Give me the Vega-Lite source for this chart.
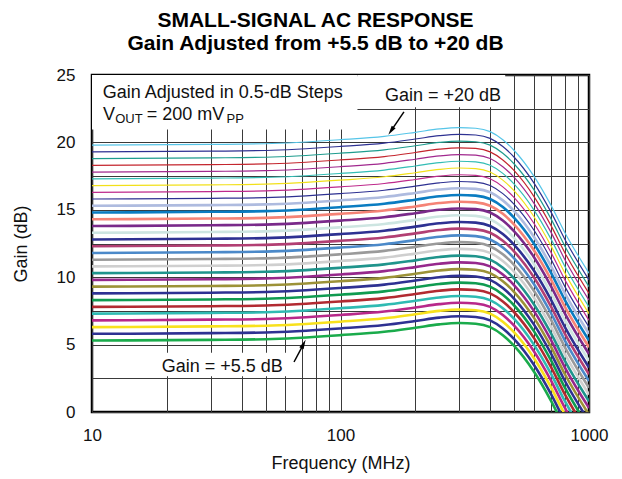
{
  "$schema": "https://vega.github.io/schema/vega-lite/v6.json",
  "autosize": "none",
  "width": 497,
  "height": 337,
  "padding": {"left": 92, "top": 75, "right": 33, "bottom": 67},
  "background": "white",
  "title": {
    "text": ["SMALL-SIGNAL AC RESPONSE", "Gain Adjusted from +5.5 dB to +20 dB"],
    "fontSize": 21,
    "fontWeight": "bold",
    "lineHeight": 23,
    "anchor": "middle",
    "dx": -25,
    "offset": 12,
    "color": "black"
  },
  "config": {
    "font": "Liberation Sans",
    "view": {"stroke": "black", "strokeWidth": 2.5},
    "axis": {
      "domain": false,
      "ticks": false,
      "grid": true,
      "gridColor": "#3a3a3a",
      "gridWidth": 1,
      "labelFontSize": 17,
      "labelColor": "#111",
      "titleFontSize": 18,
      "titleFontWeight": "normal",
      "titleColor": "#111"
    }
  },
  "datasets": {
    "curves": [
      {"s":20,"f":10,"g":19.8},{"s":20,"f":30,"g":19.85},{"s":20,"f":50,"g":19.9},{"s":20,"f":100,"g":20.2},{"s":20,"f":150,"g":20.45},{"s":20,"f":200,"g":20.75},{"s":20,"f":250,"g":21},{"s":20,"f":300,"g":21.1},{"s":20,"f":350,"g":21.05},{"s":20,"f":400,"g":20.8},{"s":20,"f":450,"g":20.2},{"s":20,"f":500,"g":19.4},{"s":20,"f":600,"g":17.5},{"s":20,"f":700,"g":15.4},{"s":20,"f":800,"g":13.3},{"s":20,"f":1000,"g":10.3},
      {"s":19.5,"f":10,"g":19.3},{"s":19.5,"f":30,"g":19.35},{"s":19.5,"f":50,"g":19.4},{"s":19.5,"f":100,"g":19.7},{"s":19.5,"f":150,"g":19.95},{"s":19.5,"f":200,"g":20.25},{"s":19.5,"f":250,"g":20.5},{"s":19.5,"f":300,"g":20.6},{"s":19.5,"f":350,"g":20.55},{"s":19.5,"f":400,"g":20.3},{"s":19.5,"f":450,"g":19.7},{"s":19.5,"f":500,"g":18.9},{"s":19.5,"f":600,"g":17},{"s":19.5,"f":700,"g":14.9},{"s":19.5,"f":800,"g":12.8},{"s":19.5,"f":1000,"g":9.8},
      {"s":19,"f":10,"g":18.8},{"s":19,"f":30,"g":18.85},{"s":19,"f":50,"g":18.9},{"s":19,"f":100,"g":19.2},{"s":19,"f":150,"g":19.45},{"s":19,"f":200,"g":19.75},{"s":19,"f":250,"g":20},{"s":19,"f":300,"g":20.1},{"s":19,"f":350,"g":20.05},{"s":19,"f":400,"g":19.8},{"s":19,"f":450,"g":19.2},{"s":19,"f":500,"g":18.4},{"s":19,"f":600,"g":16.5},{"s":19,"f":700,"g":14.4},{"s":19,"f":800,"g":12.3},{"s":19,"f":1000,"g":9.3},
      {"s":18.5,"f":10,"g":18.3},{"s":18.5,"f":30,"g":18.35},{"s":18.5,"f":50,"g":18.4},{"s":18.5,"f":100,"g":18.7},{"s":18.5,"f":150,"g":18.95},{"s":18.5,"f":200,"g":19.25},{"s":18.5,"f":250,"g":19.5},{"s":18.5,"f":300,"g":19.6},{"s":18.5,"f":350,"g":19.55},{"s":18.5,"f":400,"g":19.3},{"s":18.5,"f":450,"g":18.7},{"s":18.5,"f":500,"g":17.9},{"s":18.5,"f":600,"g":16},{"s":18.5,"f":700,"g":13.9},{"s":18.5,"f":800,"g":11.8},{"s":18.5,"f":1000,"g":8.8},
      {"s":18,"f":10,"g":17.8},{"s":18,"f":30,"g":17.85},{"s":18,"f":50,"g":17.9},{"s":18,"f":100,"g":18.2},{"s":18,"f":150,"g":18.45},{"s":18,"f":200,"g":18.75},{"s":18,"f":250,"g":19},{"s":18,"f":300,"g":19.1},{"s":18,"f":350,"g":19.05},{"s":18,"f":400,"g":18.8},{"s":18,"f":450,"g":18.2},{"s":18,"f":500,"g":17.4},{"s":18,"f":600,"g":15.5},{"s":18,"f":700,"g":13.4},{"s":18,"f":800,"g":11.3},{"s":18,"f":1000,"g":8.3},
      {"s":17.5,"f":10,"g":17.3},{"s":17.5,"f":30,"g":17.35},{"s":17.5,"f":50,"g":17.4},{"s":17.5,"f":100,"g":17.7},{"s":17.5,"f":150,"g":17.95},{"s":17.5,"f":200,"g":18.25},{"s":17.5,"f":250,"g":18.5},{"s":17.5,"f":300,"g":18.6},{"s":17.5,"f":350,"g":18.55},{"s":17.5,"f":400,"g":18.3},{"s":17.5,"f":450,"g":17.7},{"s":17.5,"f":500,"g":16.9},{"s":17.5,"f":600,"g":15},{"s":17.5,"f":700,"g":12.9},{"s":17.5,"f":800,"g":10.8},{"s":17.5,"f":1000,"g":7.8},
      {"s":17,"f":10,"g":16.8},{"s":17,"f":30,"g":16.85},{"s":17,"f":50,"g":16.9},{"s":17,"f":100,"g":17.2},{"s":17,"f":150,"g":17.45},{"s":17,"f":200,"g":17.75},{"s":17,"f":250,"g":18},{"s":17,"f":300,"g":18.1},{"s":17,"f":350,"g":18.05},{"s":17,"f":400,"g":17.8},{"s":17,"f":450,"g":17.2},{"s":17,"f":500,"g":16.4},{"s":17,"f":600,"g":14.5},{"s":17,"f":700,"g":12.4},{"s":17,"f":800,"g":10.3},{"s":17,"f":1000,"g":7.3},
      {"s":16.5,"f":10,"g":16.3},{"s":16.5,"f":30,"g":16.35},{"s":16.5,"f":50,"g":16.4},{"s":16.5,"f":100,"g":16.7},{"s":16.5,"f":150,"g":16.95},{"s":16.5,"f":200,"g":17.25},{"s":16.5,"f":250,"g":17.5},{"s":16.5,"f":300,"g":17.6},{"s":16.5,"f":350,"g":17.55},{"s":16.5,"f":400,"g":17.3},{"s":16.5,"f":450,"g":16.7},{"s":16.5,"f":500,"g":15.9},{"s":16.5,"f":600,"g":14},{"s":16.5,"f":700,"g":11.9},{"s":16.5,"f":800,"g":9.8},{"s":16.5,"f":1000,"g":6.8},
      {"s":16,"f":10,"g":15.8},{"s":16,"f":30,"g":15.85},{"s":16,"f":50,"g":15.9},{"s":16,"f":100,"g":16.2},{"s":16,"f":150,"g":16.45},{"s":16,"f":200,"g":16.75},{"s":16,"f":250,"g":17},{"s":16,"f":300,"g":17.1},{"s":16,"f":350,"g":17.05},{"s":16,"f":400,"g":16.8},{"s":16,"f":450,"g":16.2},{"s":16,"f":500,"g":15.4},{"s":16,"f":600,"g":13.5},{"s":16,"f":700,"g":11.4},{"s":16,"f":800,"g":9.3},{"s":16,"f":1000,"g":6.3},
      {"s":15.5,"f":10,"g":15.3},{"s":15.5,"f":30,"g":15.35},{"s":15.5,"f":50,"g":15.4},{"s":15.5,"f":100,"g":15.7},{"s":15.5,"f":150,"g":15.95},{"s":15.5,"f":200,"g":16.25},{"s":15.5,"f":250,"g":16.5},{"s":15.5,"f":300,"g":16.6},{"s":15.5,"f":350,"g":16.55},{"s":15.5,"f":400,"g":16.3},{"s":15.5,"f":450,"g":15.7},{"s":15.5,"f":500,"g":14.9},{"s":15.5,"f":600,"g":13},{"s":15.5,"f":700,"g":10.9},{"s":15.5,"f":800,"g":8.8},{"s":15.5,"f":1000,"g":5.8},
      {"s":15,"f":10,"g":14.8},{"s":15,"f":30,"g":14.85},{"s":15,"f":50,"g":14.9},{"s":15,"f":100,"g":15.2},{"s":15,"f":150,"g":15.45},{"s":15,"f":200,"g":15.75},{"s":15,"f":250,"g":16},{"s":15,"f":300,"g":16.1},{"s":15,"f":350,"g":16.05},{"s":15,"f":400,"g":15.8},{"s":15,"f":450,"g":15.2},{"s":15,"f":500,"g":14.4},{"s":15,"f":600,"g":12.5},{"s":15,"f":700,"g":10.4},{"s":15,"f":800,"g":8.3},{"s":15,"f":1000,"g":5.3},
      {"s":14.5,"f":10,"g":14.3},{"s":14.5,"f":30,"g":14.35},{"s":14.5,"f":50,"g":14.4},{"s":14.5,"f":100,"g":14.7},{"s":14.5,"f":150,"g":14.95},{"s":14.5,"f":200,"g":15.25},{"s":14.5,"f":250,"g":15.5},{"s":14.5,"f":300,"g":15.6},{"s":14.5,"f":350,"g":15.55},{"s":14.5,"f":400,"g":15.3},{"s":14.5,"f":450,"g":14.7},{"s":14.5,"f":500,"g":13.9},{"s":14.5,"f":600,"g":12},{"s":14.5,"f":700,"g":9.9},{"s":14.5,"f":800,"g":7.8},{"s":14.5,"f":1000,"g":4.8},
      {"s":14,"f":10,"g":13.8},{"s":14,"f":30,"g":13.85},{"s":14,"f":50,"g":13.9},{"s":14,"f":100,"g":14.2},{"s":14,"f":150,"g":14.45},{"s":14,"f":200,"g":14.75},{"s":14,"f":250,"g":15},{"s":14,"f":300,"g":15.1},{"s":14,"f":350,"g":15.05},{"s":14,"f":400,"g":14.8},{"s":14,"f":450,"g":14.2},{"s":14,"f":500,"g":13.4},{"s":14,"f":600,"g":11.5},{"s":14,"f":700,"g":9.4},{"s":14,"f":800,"g":7.3},{"s":14,"f":1000,"g":4.3},
      {"s":13.5,"f":10,"g":13.3},{"s":13.5,"f":30,"g":13.35},{"s":13.5,"f":50,"g":13.4},{"s":13.5,"f":100,"g":13.7},{"s":13.5,"f":150,"g":13.95},{"s":13.5,"f":200,"g":14.25},{"s":13.5,"f":250,"g":14.5},{"s":13.5,"f":300,"g":14.6},{"s":13.5,"f":350,"g":14.55},{"s":13.5,"f":400,"g":14.3},{"s":13.5,"f":450,"g":13.7},{"s":13.5,"f":500,"g":12.9},{"s":13.5,"f":600,"g":11},{"s":13.5,"f":700,"g":8.9},{"s":13.5,"f":800,"g":6.8},{"s":13.5,"f":1000,"g":3.8},
      {"s":13,"f":10,"g":12.8},{"s":13,"f":30,"g":12.85},{"s":13,"f":50,"g":12.9},{"s":13,"f":100,"g":13.2},{"s":13,"f":150,"g":13.45},{"s":13,"f":200,"g":13.75},{"s":13,"f":250,"g":14},{"s":13,"f":300,"g":14.1},{"s":13,"f":350,"g":14.05},{"s":13,"f":400,"g":13.8},{"s":13,"f":450,"g":13.2},{"s":13,"f":500,"g":12.4},{"s":13,"f":600,"g":10.5},{"s":13,"f":700,"g":8.4},{"s":13,"f":800,"g":6.3},{"s":13,"f":1000,"g":3.3},
      {"s":12.5,"f":10,"g":12.3},{"s":12.5,"f":30,"g":12.35},{"s":12.5,"f":50,"g":12.4},{"s":12.5,"f":100,"g":12.7},{"s":12.5,"f":150,"g":12.95},{"s":12.5,"f":200,"g":13.25},{"s":12.5,"f":250,"g":13.5},{"s":12.5,"f":300,"g":13.6},{"s":12.5,"f":350,"g":13.55},{"s":12.5,"f":400,"g":13.3},{"s":12.5,"f":450,"g":12.7},{"s":12.5,"f":500,"g":11.9},{"s":12.5,"f":600,"g":10},{"s":12.5,"f":700,"g":7.9},{"s":12.5,"f":800,"g":5.8},{"s":12.5,"f":1000,"g":2.8},
      {"s":12,"f":10,"g":11.8},{"s":12,"f":30,"g":11.85},{"s":12,"f":50,"g":11.9},{"s":12,"f":100,"g":12.2},{"s":12,"f":150,"g":12.45},{"s":12,"f":200,"g":12.75},{"s":12,"f":250,"g":13},{"s":12,"f":300,"g":13.1},{"s":12,"f":350,"g":13.05},{"s":12,"f":400,"g":12.8},{"s":12,"f":450,"g":12.2},{"s":12,"f":500,"g":11.4},{"s":12,"f":600,"g":9.5},{"s":12,"f":700,"g":7.4},{"s":12,"f":800,"g":5.3},{"s":12,"f":1000,"g":2.3},
      {"s":11.5,"f":10,"g":11.3},{"s":11.5,"f":30,"g":11.35},{"s":11.5,"f":50,"g":11.4},{"s":11.5,"f":100,"g":11.7},{"s":11.5,"f":150,"g":11.95},{"s":11.5,"f":200,"g":12.25},{"s":11.5,"f":250,"g":12.5},{"s":11.5,"f":300,"g":12.6},{"s":11.5,"f":350,"g":12.55},{"s":11.5,"f":400,"g":12.3},{"s":11.5,"f":450,"g":11.7},{"s":11.5,"f":500,"g":10.9},{"s":11.5,"f":600,"g":9},{"s":11.5,"f":700,"g":6.9},{"s":11.5,"f":800,"g":4.8},{"s":11.5,"f":1000,"g":1.8},
      {"s":11,"f":10,"g":10.8},{"s":11,"f":30,"g":10.85},{"s":11,"f":50,"g":10.9},{"s":11,"f":100,"g":11.2},{"s":11,"f":150,"g":11.45},{"s":11,"f":200,"g":11.75},{"s":11,"f":250,"g":12},{"s":11,"f":300,"g":12.1},{"s":11,"f":350,"g":12.05},{"s":11,"f":400,"g":11.8},{"s":11,"f":450,"g":11.2},{"s":11,"f":500,"g":10.4},{"s":11,"f":600,"g":8.5},{"s":11,"f":700,"g":6.4},{"s":11,"f":800,"g":4.3},{"s":11,"f":1000,"g":1.3},
      {"s":10.5,"f":10,"g":10.3},{"s":10.5,"f":30,"g":10.35},{"s":10.5,"f":50,"g":10.4},{"s":10.5,"f":100,"g":10.7},{"s":10.5,"f":150,"g":10.95},{"s":10.5,"f":200,"g":11.25},{"s":10.5,"f":250,"g":11.5},{"s":10.5,"f":300,"g":11.6},{"s":10.5,"f":350,"g":11.55},{"s":10.5,"f":400,"g":11.3},{"s":10.5,"f":450,"g":10.7},{"s":10.5,"f":500,"g":9.9},{"s":10.5,"f":600,"g":8},{"s":10.5,"f":700,"g":5.9},{"s":10.5,"f":800,"g":3.8},{"s":10.5,"f":1000,"g":0.8},
      {"s":10,"f":10,"g":9.8},{"s":10,"f":30,"g":9.85},{"s":10,"f":50,"g":9.9},{"s":10,"f":100,"g":10.2},{"s":10,"f":150,"g":10.45},{"s":10,"f":200,"g":10.75},{"s":10,"f":250,"g":11},{"s":10,"f":300,"g":11.1},{"s":10,"f":350,"g":11.05},{"s":10,"f":400,"g":10.8},{"s":10,"f":450,"g":10.2},{"s":10,"f":500,"g":9.4},{"s":10,"f":600,"g":7.5},{"s":10,"f":700,"g":5.4},{"s":10,"f":800,"g":3.3},{"s":10,"f":1000,"g":0.3},
      {"s":9.5,"f":10,"g":9.3},{"s":9.5,"f":30,"g":9.35},{"s":9.5,"f":50,"g":9.4},{"s":9.5,"f":100,"g":9.7},{"s":9.5,"f":150,"g":9.95},{"s":9.5,"f":200,"g":10.25},{"s":9.5,"f":250,"g":10.5},{"s":9.5,"f":300,"g":10.6},{"s":9.5,"f":350,"g":10.55},{"s":9.5,"f":400,"g":10.3},{"s":9.5,"f":450,"g":9.7},{"s":9.5,"f":500,"g":8.9},{"s":9.5,"f":600,"g":7},{"s":9.5,"f":700,"g":4.9},{"s":9.5,"f":800,"g":2.8},{"s":9.5,"f":1000,"g":-0.2},
      {"s":9,"f":10,"g":8.8},{"s":9,"f":30,"g":8.85},{"s":9,"f":50,"g":8.9},{"s":9,"f":100,"g":9.2},{"s":9,"f":150,"g":9.45},{"s":9,"f":200,"g":9.75},{"s":9,"f":250,"g":10},{"s":9,"f":300,"g":10.1},{"s":9,"f":350,"g":10.05},{"s":9,"f":400,"g":9.8},{"s":9,"f":450,"g":9.2},{"s":9,"f":500,"g":8.4},{"s":9,"f":600,"g":6.5},{"s":9,"f":700,"g":4.4},{"s":9,"f":800,"g":2.3},{"s":9,"f":1000,"g":-0.7},
      {"s":8.5,"f":10,"g":8.3},{"s":8.5,"f":30,"g":8.35},{"s":8.5,"f":50,"g":8.4},{"s":8.5,"f":100,"g":8.7},{"s":8.5,"f":150,"g":8.95},{"s":8.5,"f":200,"g":9.25},{"s":8.5,"f":250,"g":9.5},{"s":8.5,"f":300,"g":9.6},{"s":8.5,"f":350,"g":9.55},{"s":8.5,"f":400,"g":9.3},{"s":8.5,"f":450,"g":8.7},{"s":8.5,"f":500,"g":7.9},{"s":8.5,"f":600,"g":6},{"s":8.5,"f":700,"g":3.9},{"s":8.5,"f":800,"g":1.8},{"s":8.5,"f":1000,"g":-1.2},
      {"s":8,"f":10,"g":7.8},{"s":8,"f":30,"g":7.85},{"s":8,"f":50,"g":7.9},{"s":8,"f":100,"g":8.2},{"s":8,"f":150,"g":8.45},{"s":8,"f":200,"g":8.75},{"s":8,"f":250,"g":9},{"s":8,"f":300,"g":9.1},{"s":8,"f":350,"g":9.05},{"s":8,"f":400,"g":8.8},{"s":8,"f":450,"g":8.2},{"s":8,"f":500,"g":7.4},{"s":8,"f":600,"g":5.5},{"s":8,"f":700,"g":3.4},{"s":8,"f":800,"g":1.3},{"s":8,"f":1000,"g":-1.7},
      {"s":7.5,"f":10,"g":7.3},{"s":7.5,"f":30,"g":7.35},{"s":7.5,"f":50,"g":7.4},{"s":7.5,"f":100,"g":7.7},{"s":7.5,"f":150,"g":7.95},{"s":7.5,"f":200,"g":8.25},{"s":7.5,"f":250,"g":8.5},{"s":7.5,"f":300,"g":8.6},{"s":7.5,"f":350,"g":8.55},{"s":7.5,"f":400,"g":8.3},{"s":7.5,"f":450,"g":7.7},{"s":7.5,"f":500,"g":6.9},{"s":7.5,"f":600,"g":5},{"s":7.5,"f":700,"g":2.9},{"s":7.5,"f":800,"g":0.8},{"s":7.5,"f":1000,"g":-2.2},
      {"s":7,"f":10,"g":6.8},{"s":7,"f":30,"g":6.85},{"s":7,"f":50,"g":6.9},{"s":7,"f":100,"g":7.2},{"s":7,"f":150,"g":7.45},{"s":7,"f":200,"g":7.75},{"s":7,"f":250,"g":8},{"s":7,"f":300,"g":8.1},{"s":7,"f":350,"g":8.05},{"s":7,"f":400,"g":7.8},{"s":7,"f":450,"g":7.2},{"s":7,"f":500,"g":6.4},{"s":7,"f":600,"g":4.5},{"s":7,"f":700,"g":2.4},{"s":7,"f":800,"g":0.3},{"s":7,"f":1000,"g":-2.7},
      {"s":6.5,"f":10,"g":6.3},{"s":6.5,"f":30,"g":6.35},{"s":6.5,"f":50,"g":6.4},{"s":6.5,"f":100,"g":6.7},{"s":6.5,"f":150,"g":6.95},{"s":6.5,"f":200,"g":7.25},{"s":6.5,"f":250,"g":7.5},{"s":6.5,"f":300,"g":7.6},{"s":6.5,"f":350,"g":7.55},{"s":6.5,"f":400,"g":7.3},{"s":6.5,"f":450,"g":6.7},{"s":6.5,"f":500,"g":5.9},{"s":6.5,"f":600,"g":4},{"s":6.5,"f":700,"g":1.9},{"s":6.5,"f":800,"g":-0.2},{"s":6.5,"f":1000,"g":-3.2},
      {"s":6,"f":10,"g":5.8},{"s":6,"f":30,"g":5.85},{"s":6,"f":50,"g":5.9},{"s":6,"f":100,"g":6.2},{"s":6,"f":150,"g":6.45},{"s":6,"f":200,"g":6.75},{"s":6,"f":250,"g":7},{"s":6,"f":300,"g":7.1},{"s":6,"f":350,"g":7.05},{"s":6,"f":400,"g":6.8},{"s":6,"f":450,"g":6.2},{"s":6,"f":500,"g":5.4},{"s":6,"f":600,"g":3.5},{"s":6,"f":700,"g":1.4},{"s":6,"f":800,"g":-0.7},{"s":6,"f":1000,"g":-3.7},
      {"s":5.5,"f":10,"g":5.3},{"s":5.5,"f":30,"g":5.35},{"s":5.5,"f":50,"g":5.4},{"s":5.5,"f":100,"g":5.7},{"s":5.5,"f":150,"g":5.95},{"s":5.5,"f":200,"g":6.25},{"s":5.5,"f":250,"g":6.5},{"s":5.5,"f":300,"g":6.6},{"s":5.5,"f":350,"g":6.55},{"s":5.5,"f":400,"g":6.3},{"s":5.5,"f":450,"g":5.7},{"s":5.5,"f":500,"g":4.9},{"s":5.5,"f":600,"g":3},{"s":5.5,"f":700,"g":0.9},{"s":5.5,"f":800,"g":-1.2},{"s":5.5,"f":1000,"g":-4.2}
    ],
    "masks": [
      {"f":10,"f2":117,"g":20.95,"g2":25},
      {"f":117,"f2":460,"g":22.6,"g2":25},
      {"f":18.4,"f2":62,"g":2.65,"g2":4.4}
    ],
    "arrows": [
      {"f":180,"g":22.26,"f2":159.7,"g2":20.85,"dir":"up"},
      {"f":65,"g":3.71,"f2":71,"g2":5.04,"dir":"down"}
    ],
    "labels": [
      {"f":11.04,"g":23.27,"text":"Gain Adjusted in 0.5-dB Steps"},
      {"f":11.07,"g":21.66,"text":"V"},
      {"f":16.6,"g":21.66,"text":"= 200 mV"},
      {"f":151,"g":23.09,"text":"Gain = +20 dB"},
      {"f":19.08,"g":2.95,"text":"Gain = +5.5 dB"}
    ],
    "subscripts": [
      {"f":12.4,"g":21.46,"text":"OUT"},
      {"f":34.8,"g":21.42,"text":"PP"}
    ]
  },
  "encoding": {
    "x": {
      "field": "f",
      "type": "quantitative",
      "scale": {"type": "log", "domain": [10, 1000]},
      "axis": {
        "title": "Frequency (MHz)",
        "format": "d",
        "values": [10,20,30,40,50,60,70,80,90,100,200,300,400,500,600,700,800,900,1000],
        "labelExpr": "datum.value == 10 || datum.value == 100 || datum.value == 1000 ? datum.label : ''",
        "labelPadding": 15,
        "titlePadding": 11,
        "labelFlush": false
      }
    },
    "y": {
      "field": "g",
      "type": "quantitative",
      "scale": {"domain": [0, 25], "nice": false, "zero": false},
      "axis": {
        "title": "Gain (dB)",
        "values": [0,2.5,5,7.5,10,12.5,15,17.5,20,22.5,25],
        "labelExpr": "datum.value % 5 == 0 ? datum.label : ''",
        "labelPadding": 17,
        "titlePadding": 26
      }
    }
  },
  "layer": [
    {
      "data": {"name": "masks"},
      "mark": {"type": "rect", "fill": "white", "stroke": null},
      "encoding": {
        "x2": {"field": "f2"},
        "y2": {"field": "g2"}
      }
    },
    {
      "data": {"name": "curves"},
      "transform": [{"filter": "datum.s <= 15.5"}],
      "mark": {"type": "line", "strokeWidth": 2.6, "interpolate": "monotone", "clip": true},
      "encoding": {
        "color": {
          "field": "s",
          "type": "nominal",
          "legend": null,
          "scale": {
            "domain": [20,19.5,19,18.5,18,17.5,17,16.5,16,15.5,15,14.5,14,13.5,13,12.5,12,11.5,11,10.5,10,9.5,9,8.5,8,7.5,7,6.5,6,5.5],
            "range": ["#56c5e8","#2e3192","#1e9c8e","#c4262e","#a1288e","#33bdb5","#f2e01a","#be2a8c","#2e3192","#aebbdf","#0a7cc1","#f58376","#7a2a8a","#cde5e1","#2e3192","#b23f73","#4b89c9","#9a9a9a","#cfcfcf","#1f948c","#96288c","#9c9237","#2e3192","#0f9b50","#b22a31","#2fbab2","#b8288a","#f8e11c","#2e3192","#1aab4b"]
          }
        }
      }
    },
    {
      "data": {"name": "curves"},
      "transform": [{"filter": "datum.s >= 16"}],
      "mark": {"type": "line", "strokeWidth": 1.2, "interpolate": "monotone", "clip": true},
      "encoding": {
        "color": {"field": "s", "type": "nominal", "legend": null}
      }
    },
    {
      "data": {"name": "arrows"},
      "mark": {"type": "rule", "color": "black", "strokeWidth": 1.5},
      "encoding": {
        "x2": {"field": "f2"},
        "y2": {"field": "g2"}
      }
    },
    {
      "data": {"name": "arrows"},
      "transform": [{"filter": "datum.dir == 'up'"}],
      "mark": {"type": "point", "shape": "M0,-1L0.5,1L-0.5,1Z", "filled": true, "color": "black", "opacity": 1, "size": 90, "angle": 214},
      "encoding": {
        "x": {"field": "f2", "type": "quantitative"},
        "y": {"field": "g2", "type": "quantitative"}
      }
    },
    {
      "data": {"name": "arrows"},
      "transform": [{"filter": "datum.dir == 'down'"}],
      "mark": {"type": "point", "shape": "M0,-1L0.5,1L-0.5,1Z", "filled": true, "color": "black", "opacity": 1, "size": 90, "angle": 26},
      "encoding": {
        "x": {"field": "f2", "type": "quantitative"},
        "y": {"field": "g2", "type": "quantitative"}
      }
    },
    {
      "data": {"name": "labels"},
      "mark": {"type": "text", "align": "left", "baseline": "alphabetic", "fontSize": 18, "color": "#111"},
      "encoding": {"text": {"field": "text"}}
    },
    {
      "data": {"name": "subscripts"},
      "mark": {"type": "text", "align": "left", "baseline": "alphabetic", "fontSize": 13, "color": "#111"},
      "encoding": {"text": {"field": "text"}}
    }
  ]
}
